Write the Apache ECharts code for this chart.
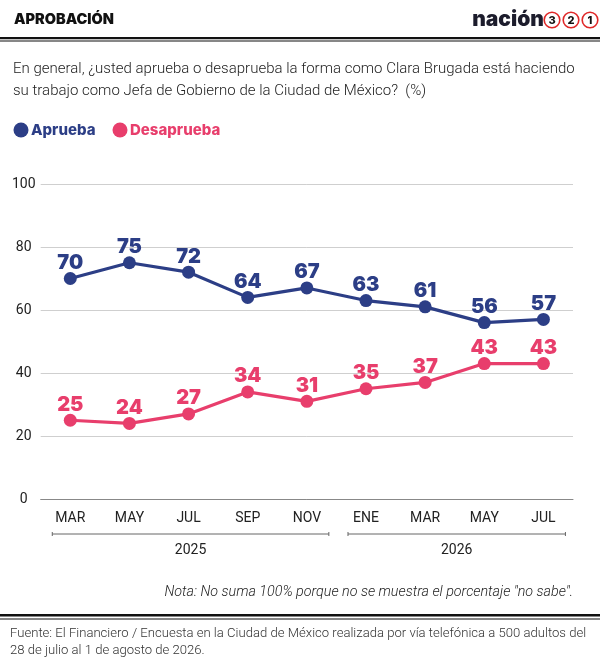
<!DOCTYPE html>
<html><head><meta charset="utf-8">
<script src="https://cdn.jsdelivr.net/npm/echarts@6/dist/echarts.min.js"></script>
<style>html,body{margin:0;padding:0;background:#fff}#c{width:600px;height:665px}</style>
</head><body><div id="c"></div>
<script>
const categories = ['MAR','MAY','JUL','SEP','NOV','ENE','MAR','MAY','JUL'];
const aprueba = [70,75,72,64,67,63,61,56,57];
const desaprueba = [25,24,27,34,31,35,37,43,43];
const yearGroups = [{label:'2025', from:0, to:4},{label:'2026', from:5, to:8}];
const yTicks = {min:0, max:100, interval:20};

const BLUE = '#2c3e86', PINK = '#e83e6c';
const chart = echarts.init(document.getElementById('c'), null, {renderer:'canvas'});
const labelFont = {fontFamily:'Inter', fontWeight:900, fontSize:20};
function series(name, data, color){
  return {name, type:'line', data, symbol:'circle', symbolSize:13,
    lineStyle:{width:3.2, color}, itemStyle:{color},
    label:{show:true, position:'top', distance:-1, color, ...labelFont}};
}
const option = {
  animation:false,
  grid:{left:40.7, right:27, top:184, bottom:166},
  xAxis:{type:'category', data:categories, boundaryGap:true,
    axisLine:{lineStyle:{color:'#888', width:1}},
    axisTick:{inside:true, length:7, lineStyle:{color:'#888'}},
    axisLabel:{color:'#222', fontFamily:'Roboto', fontSize:14, margin:12}},
  yAxis:{type:'value', min:yTicks.min, max:yTicks.max, interval:yTicks.interval,
    axisLine:{show:false}, axisTick:{show:false},
    splitLine:{lineStyle:{color:'#cfcfcf', width:1}},
    axisLabel:{color:'#222', fontFamily:'Roboto', fontSize:14, margin:17, align:'center'}},
  series:[series('Aprueba', aprueba, BLUE), series('Desaprueba', desaprueba, PINK)]
};
chart.setOption(option);

const g = [];
// header
g.push({type:'text', left:14, top:12, style:{text:'APROBACIÓN', font:'900 14.5px Inter', fill:'#111'}});
g.push({type:'rect', shape:{x:0,y:37,width:600,height:2.2}, style:{fill:'#111'}});
g.push({type:'rect', shape:{x:0,y:40.5,width:600,height:1}, style:{fill:'#111'}});
// logo
g.push({type:'text', x:544, y:20, style:{text:'nación', font:'900 21px Inter', fill:'#1c1c2c', align:'right', verticalAlign:'middle'}});
[['3',552],['2',571],['1',590]].forEach(([d,cx])=>{
  g.push({type:'circle', shape:{cx, cy:20, r:7.8}, style:{fill:'#fff', stroke:'#e02828', lineWidth:1.6}});
  g.push({type:'text', x:cx, y:20.5, style:{text:d, font:'800 11px Inter', fill:'#111', align:'center', verticalAlign:'middle'}});
});
// question
g.push({type:'text', left:13, top:58, style:{text:'En general, ¿usted aprueba o desaprueba la forma como Clara Brugada está haciendo\nsu trabajo como Jefa de Gobierno de la Ciudad de México?  (%)', font:'300 15px Roboto', fill:'#222', lineHeight:22}});
// legend
g.push({type:'circle', shape:{cx:21, cy:130, r:7.5}, style:{fill:BLUE}});
g.push({type:'text', x:31, y:130, style:{text:'Aprueba', font:'800 15px Inter', fill:BLUE, verticalAlign:'middle'}});
g.push({type:'circle', shape:{cx:120, cy:130, r:7.5}, style:{fill:PINK}});
g.push({type:'text', x:130, y:130, style:{text:'Desaprueba', font:'800 15px Inter', fill:PINK, verticalAlign:'middle'}});
// year brackets
yearGroups.forEach(gr=>{
  const x1 = chart.convertToPixel({xAxisIndex:0}, gr.from) - 18;
  const x2 = chart.convertToPixel({xAxisIndex:0}, gr.to) + 22;
  const y = 534;
  g.push({type:'line', shape:{x1, y1:y, x2, y2:y}, style:{stroke:'#666', lineWidth:1}});
  g.push({type:'line', shape:{x1, y1:y-2, x2:x1, y2:y+2}, style:{stroke:'#666', lineWidth:1}});
  g.push({type:'line', shape:{x1:x2, y1:y-2, x2:x2, y2:y+2}, style:{stroke:'#666', lineWidth:1}});
  g.push({type:'text', x:(x1+x2)/2, y:550, style:{text:gr.label, font:'400 14px Roboto', fill:'#222', align:'center', verticalAlign:'middle'}});
});
// note
g.push({type:'text', x:573, y:592, style:{text:'Nota: No suma 100% porque no se muestra el porcentaje "no sabe".', font:'italic 300 14.3px Roboto', fill:'#222', align:'right', verticalAlign:'middle'}});
// footer
g.push({type:'rect', shape:{x:0,y:614,width:600,height:2.5}, style:{fill:'#111'}});
g.push({type:'rect', shape:{x:0,y:618.5,width:600,height:1}, style:{fill:'#111'}});
g.push({type:'text', left:10, top:625, style:{text:'Fuente: El Financiero / Encuesta en la Ciudad de México realizada por vía telefónica a 500 adultos del\n28 de julio al 1 de agosto de 2026.', font:'300 13.1px Roboto', fill:'#333', lineHeight:17}});
chart.setOption({graphic:g});
</script></body></html>
